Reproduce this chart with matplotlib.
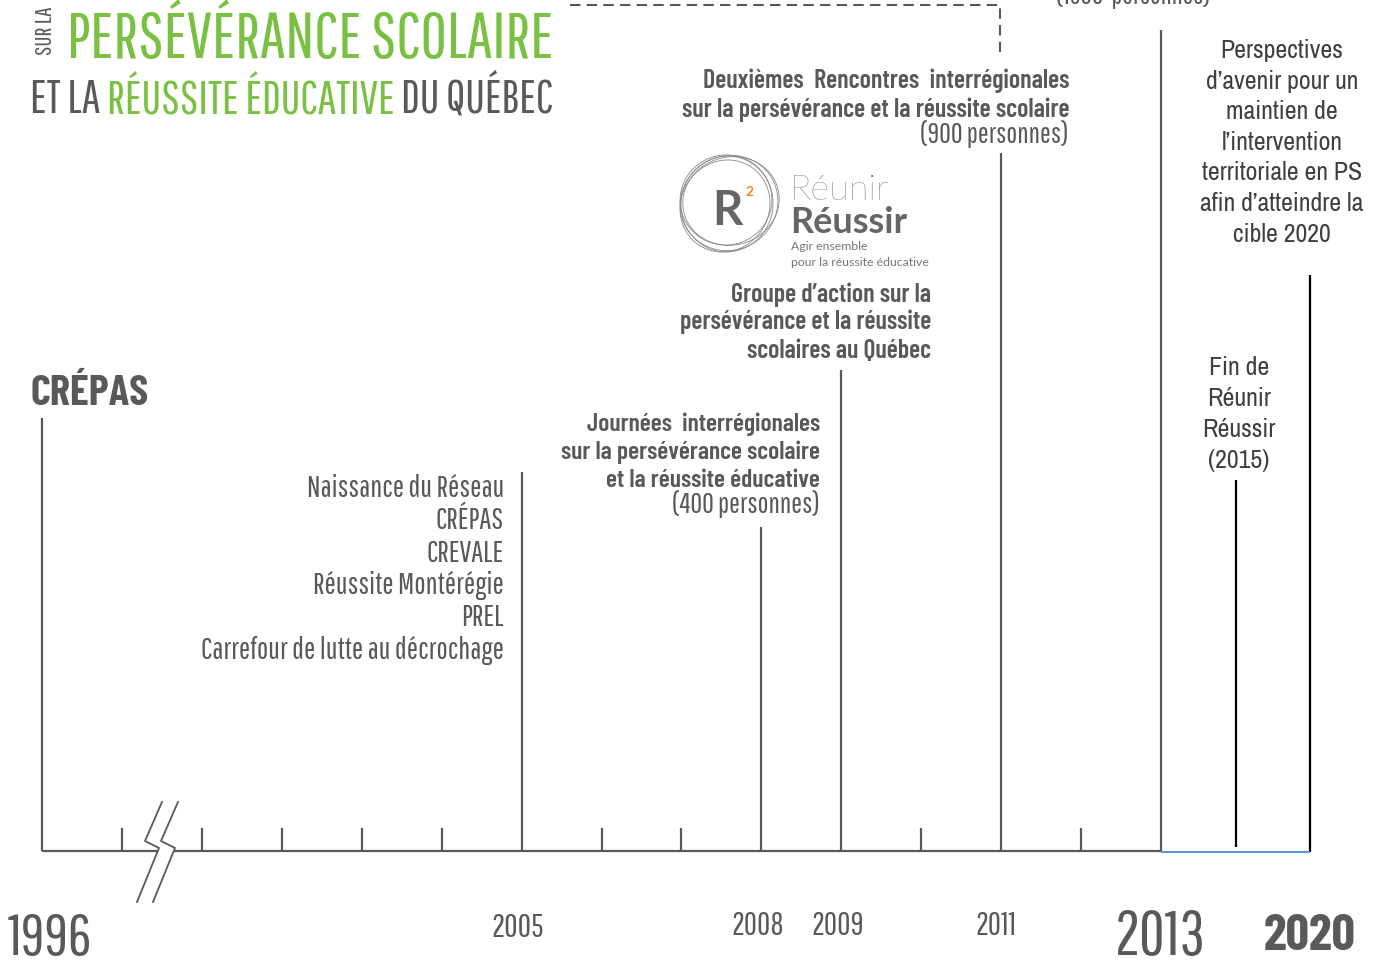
import numpy as np
import matplotlib
matplotlib.use("Agg")
import matplotlib.pyplot as plt
from matplotlib import font_manager as fm
from matplotlib.font_manager import FontProperties
from matplotlib.patches import Ellipse, Polygon

# ---------------- data ----------------
event_years = [1996, 2005, 2008, 2009, 2011, 2013, 2015, 2020]
minor_tick_years = [1997.5, 1999, 2000.5, 2002, 2003.5, 2006, 2007, 2010, 2012]
label_years = [1996, 2005, 2008, 2009, 2011, 2013, 2020]
year_labels = ["1996", "2005", "2008", "2009", "2011", "2013", "2020"]
reseau_members = ["Naissance du Réseau", "CRÉPAS", "CREVALE", "Réussite Montérégie",
                  "PREL", "Carrefour de lutte au décrochage"]
journees_2008 = ["Journées  interrégionales", "sur la persévérance scolaire", "et la réussite éducative"]
journees_2008_people = "(400 personnes)"
groupe_2009 = ["Groupe d’action sur la", "persévérance et la réussite", "scolaires au Québec"]
rencontres_2011 = ["Deuxièmes  Rencontres  interrégionales", "sur la persévérance et la réussite scolaire"]
rencontres_2011_people = "(900 personnes)"
top_cut_people = "(1500  personnes)"
perspectives_2020 = ["Perspectives", "d’avenir pour un", "maintien de", "l’intervention",
                     "territoriale en PS", "afin d’atteindre la", "cible 2020"]
fin_2015 = ["Fin de", "Réunir", "Réussir", "(2015)"]
title_small = "SUR LA"
title_line1 = "PERSÉVÉRANCE SCOLAIRE"
title_line2 = ["ET LA ", "RÉUSSITE ÉDUCATIVE", " DU QUÉBEC"]
crepas_label = "CRÉPAS"
logo_words = ["Réunir", "Réussir", "Agir ensemble", "pour la réussite éducative"]

# piecewise (broken) time scale anchors
scale_years = [1996, 2005, 2013, 2015, 2020]
scale_slots = [0.0, 6.0, 14.0, 14.94, 15.87]

GRAY = "#595959"
DARK = "#58595B"
GREEN = "#7AC143"
ORANGE = "#F58220"
BLUE = "#5B8FD6"


def _interp_lin(v, xs, ys):
    v = np.asarray(v, float)
    out = np.interp(v, xs, ys)
    lo_s = (ys[1] - ys[0]) / (xs[1] - xs[0])
    hi_s = (ys[-1] - ys[-2]) / (xs[-1] - xs[-2])
    out = np.where(v < xs[0], ys[0] + (v - xs[0]) * lo_s, out)
    out = np.where(v > xs[-1], ys[-1] + (v - xs[-1]) * hi_s, out)
    return out


def fwd(v):
    return _interp_lin(v, scale_years, scale_slots)


def inv(v):
    return _interp_lin(v, scale_slots, scale_years)


# ---------------- fonts ----------------
names = {f.name for f in fm.fontManager.ttflist}


def pick(cands, default="DejaVu Sans"):
    for c in cands:
        if c in names:
            return c
    return default


GOTHIC = pick(["Pathway Gothic One", "Saira Extra Condensed", "Roboto Condensed"])
COND = pick(["Barlow Condensed", "PT Sans Narrow", "Roboto Condensed"])
NARROW = pick(["Archivo Narrow", "PT Sans Narrow", "Liberation Sans"])
LOGO = pick(["Lato", "Open Sans"])


def fp(family, weight="normal"):
    return FontProperties(family=[family, "DejaVu Sans"], weight=weight)


F_GOTH = fp(GOTHIC)
F_BOLD = fp(COND, 600)
F_XBOLD = fp(COND, "bold")
F_NAR = fp(NARROW)
F_LOGO = fp(LOGO, "light")
F_LOGO_R = fp(LOGO, "normal")
F_LOGO_B = fp(LOGO, "bold")

# ---------------- figure ----------------
fig = plt.figure(figsize=(13.73, 9.6), dpi=100)
fig.patch.set_facecolor("white")
ax = fig.add_axes([0, 0, 1, 1])
ax.set_xscale("function", functions=(fwd, inv))
ax.set_xlim(float(inv(-0.5255)), float(inv(16.652)))
ax.set_ylim(960, 0)
ax.axis("off")
cv = fig.add_axes([0, 0, 1, 1], facecolor="none")
cv.set_xlim(0, 1373)
cv.set_ylim(960, 0)
cv.axis("off")
R = fig.canvas.get_renderer()


def measure(s, prop, size):
    t = cv.text(0, 0, s, fontproperties=prop, fontsize=size)
    w = t.get_window_extent(R).width
    t.remove()
    return w


def fit(lines, prop, width, cap):
    w = max(measure(s, prop, 10) for s in lines)
    return min(10 * width / w, cap)


def block(lines, x, ys, ha, prop, size, color):
    for s, y in zip(lines, ys):
        cv.text(x, y, s, ha=ha, va="baseline", fontproperties=prop, fontsize=size, color=color)


# ---------------- timeline marks ----------------
tops = [418, 472, 527, 370, 153, 30, 480, 275]
bottoms = [851, 851, 851, 851, 851, 851, 847, 852]
cols = [GRAY] * 6 + ["black", "black"]
ax.vlines(event_years, tops, bottoms, colors=cols, lw=1.6)
ax.vlines(minor_tick_years, 828, 851, colors=GRAY, lw=1.6)
ax.plot([event_years[0], event_years[5]], [851, 851], color=GRAY, lw=1.6, solid_capstyle="butt")
ax.plot([event_years[5], event_years[7]], [852, 852], color=BLUE, lw=1.4, solid_capstyle="butt")

# axis break
cv.add_patch(Polygon([[162, 802], [145, 841], [159, 848], [137, 902],
                      [153, 902], [175, 849], [162, 841], [179, 802]],
                     closed=True, facecolor="white", edgecolor="none", zorder=3))
for dx in (0, 16):
    cv.plot(np.array([162, 145, 159, 137]) + dx, [802, 841, 848, 902], color=GRAY, lw=1.3, zorder=4)

# dashed connector
cv.plot([570, 1000, 1000], [5, 5, 58], color=GRAY, lw=1.5, ls=(0, (5, 3)))

# ---------------- year labels ----------------
year_x = [50, 518, 758, 838, 996, 1160, 1310]
year_base = [955, 937, 935, 935, 935, 955, 950]
year_w = [84, 52, 52, 52, 40, 98, 92]
year_cap = [43, 29, 29, 29, 27, 45, 46]
for s, x, b, w, c in zip(year_labels, year_x, year_base, year_w, year_cap):
    prop = F_XBOLD if s == "2020" else F_GOTH
    size = fit([s], prop, w, c)
    cv.text(x, b, s, ha="center", va="baseline", fontproperties=prop, fontsize=size, color=GRAY)

# ---------------- title ----------------
s1 = fit([title_line1], F_GOTH, 483, 58)
cv.text(67, 58, title_line1, ha="left", va="baseline", fontproperties=F_GOTH, fontsize=s1, color=GREEN)
s2 = fit(["".join(title_line2)], F_GOTH, 520, 44)
x = 30
sp = measure("a a", F_GOTH, s2) - measure("aa", F_GOTH, s2)
for piece, col in zip(title_line2, [DARK, GREEN, DARK]):
    core = piece.strip()
    x += sp * (len(piece) - len(piece.lstrip()))
    cv.text(x, 113, core, ha="left", va="baseline", fontproperties=F_GOTH, fontsize=s2, color=col)
    x += measure(core, F_GOTH, s2) + sp * (len(piece) - len(piece.rstrip()))
s0 = fit([title_small], F_GOTH, 53, 17)
cv.text(45, 31, title_small, rotation=90, ha="center", va="center", fontproperties=F_GOTH,
        fontsize=s0, color=DARK)

# ---------------- CRÉPAS ----------------
sc = fit([crepas_label], F_XBOLD, 118, 40)
cv.text(30, 405, crepas_label, ha="left", va="baseline", fontproperties=F_XBOLD, fontsize=sc, color=DARK)

# ---------------- text blocks ----------------
sz = fit(reseau_members, F_GOTH, 301, 22)
block(reseau_members, 504, [497, 529, 562, 594, 626, 659], "right", F_GOTH, sz, GRAY)

sz = fit(journees_2008, F_BOLD, 258, 22)
block(journees_2008, 820, [431, 459, 487], "right", F_BOLD, sz, DARK)
sz2 = fit([journees_2008_people], F_GOTH, 147, 22)
block([journees_2008_people], 820, [513], "right", F_GOTH, sz2, GRAY)

sz = fit(groupe_2009, F_BOLD, 251, 22)
block(groupe_2009, 931, [302, 329, 358], "right", F_BOLD, sz, DARK)

sz = fit(rencontres_2011, F_BOLD, 387, 22)
block(rencontres_2011, 1069, [88, 117], "right", F_BOLD, sz, DARK)
sz2 = fit([rencontres_2011_people], F_GOTH, 148, 22)
block([rencontres_2011_people], 1069, [143], "right", F_GOTH, sz2, GRAY)

sz2 = fit([top_cut_people], F_GOTH, 153, 22)
block([top_cut_people], 1133, [4], "center", F_GOTH, sz2, GRAY)

sz = fit(perspectives_2020, F_NAR, 165, 19)
block(perspectives_2020, 1282, [58, 89, 119, 150, 180, 211, 242], "center", F_NAR, sz, "#3F3F3F")
sz = fit(fin_2015, F_NAR, 74, 19)
block(fin_2015, 1239, [375, 406, 437, 468], "center", F_NAR, sz, "#3F3F3F")

# ---------------- logo ----------------
for (cx, cy, w, h, ang) in [(727, 204, 92, 96, 10), (731, 201, 97, 88, -15), (725, 206, 88, 94, 35),
                            (729, 203, 94, 99, 60), (726, 200, 90, 92, 80)]:
    cv.add_patch(Ellipse((cx, cy), w, h, angle=ang, fill=False, edgecolor="#8a8a8a", lw=0.6))
cv.text(727, 225, "R", ha="center", va="baseline", fontproperties=F_LOGO_B, fontsize=34, color="#666666")
cv.text(750, 196, "2", ha="center", va="baseline", fontproperties=F_LOGO_B, fontsize=10, color=ORANGE)
sl = fit([logo_words[0]], F_LOGO, 118, 26)
cv.text(790, 200, logo_words[0], ha="left", va="baseline", fontproperties=F_LOGO, fontsize=sl, color="#555555")
sl = fit([logo_words[1]], F_LOGO_B, 136, 26)
cv.text(790, 233, logo_words[1], ha="left", va="baseline", fontproperties=F_LOGO_B, fontsize=sl, color="#666666")
sl = fit([logo_words[3]], F_LOGO_R, 139, 9)
cv.text(791, 250, logo_words[2], ha="left", va="baseline", fontproperties=F_LOGO_R, fontsize=sl, color="#777777")
cv.text(791, 266, logo_words[3], ha="left", va="baseline", fontproperties=F_LOGO_R, fontsize=sl, color="#777777")

fig.savefig("out.png", dpi=100, facecolor="white")
